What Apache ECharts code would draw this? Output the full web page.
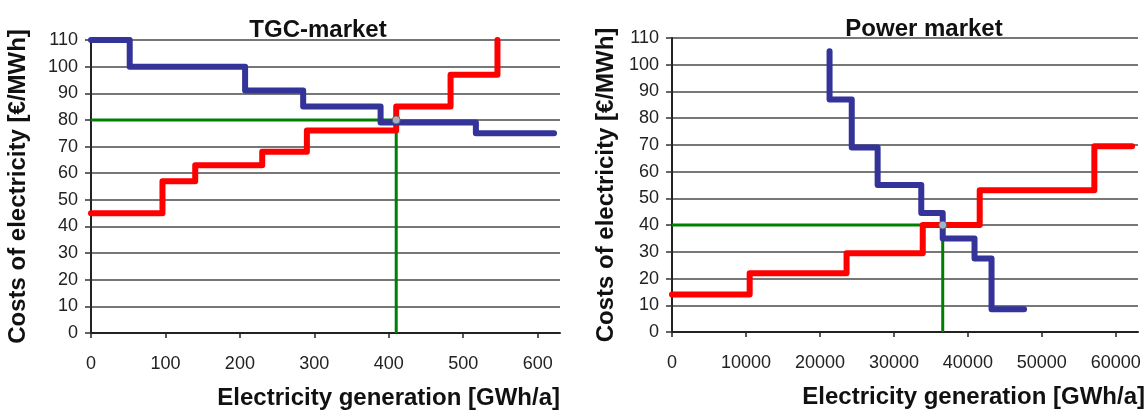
<!DOCTYPE html>
<html>
<head>
<meta charset="utf-8">
<script src="https://cdn.jsdelivr.net/npm/echarts@6/dist/echarts.min.js"></script>
<style>
  html, body { margin: 0; padding: 0; background: #fff; }
  #chart { width: 1148px; height: 414px; }
</style>
</head>
<body>
<div id="chart"></div>
<script>
// TGC market (left) - [GWh/a, €/MWh]
const tgcSupply = [[0, 45], [96, 57], [140, 63], [230, 68], [290, 76], [410, 85], [483, 97], [546, 110]];
const tgcDemand = [[0, 110], [52, 100], [207, 91], [285, 85], [389, 79], [517, 75], [622, 75]];
const tgcPrice = [[0, 80], [410, 80], [410, 0]];
const tgcEquilibrium = [[410, 80]];

// Power market (right)
const powerSupply = [[0, 14], [10500, 22], [23600, 29.5], [33900, 40], [41600, 53], [57100, 69.5], [62200, 69.5]];
const powerDemand = [[21300, 105], [21300, 87], [24300, 69], [27800, 55], [33700, 44.5], [36600, 35], [40900, 27.5], [43200, 8.5], [47600, 8.5]];
const powerPrice = [[0, 40], [36600, 40], [36600, 0]];
const powerEquilibrium = [[36600, 40]];

const titles = ["TGC-market", "Power market"];
const xName = "Electricity generation [GWh/a]";
const yName = "Costs of electricity [€/MWh]";

const FONT = "Liberation Sans, Arial, sans-serif";
const RED = "#ff0000", BLUE = "#333399", GREEN = "#008000";

var myChart = echarts.init(document.getElementById("chart"));

function xAxis(idx, max, interval, gap) {
  return {
    type: "value", gridIndex: idx, min: 0, max: max, interval: interval,
    name: xName, nameLocation: "end", nameGap: gap,
    nameTextStyle: { fontFamily: FONT, fontSize: 24, fontWeight: "bold", color: "#111",
      align: "right", verticalAlign: "top", padding: [53, 0, 0, 0] },
    axisLine: { lineStyle: { color: "#222", width: 2 } },
    axisTick: { show: true, length: 5, lineStyle: { color: "#222", width: 1.5 } },
    axisLabel: { fontFamily: FONT, fontSize: 18, color: "#222", margin: 22, showMaxLabel: false,
      formatter: function (v) { return String(v); } },
    splitLine: { show: false }
  };
}

function yAxis(idx, gap) {
  return {
    type: "value", gridIndex: idx, min: 0, max: 110, interval: 10,
    name: yName, nameLocation: "middle", nameRotate: 90, nameGap: gap,
    nameTextStyle: { fontFamily: FONT, fontSize: 24, fontWeight: "bold", color: "#111" },
    axisLine: { show: true, lineStyle: { color: "#222", width: 2 } },
    axisTick: { show: true, length: 6, lineStyle: { color: "#333", width: 1.5 } },
    axisLabel: { fontFamily: FONT, fontSize: 18, color: "#222", margin: 13 },
    splitLine: { show: true, lineStyle: { color: "#4a4a4a", width: 1.5 } }
  };
}

function stepLine(name, data, color, idx) {
  return {
    name: name, type: "line", step: "end", data: data,
    xAxisIndex: idx, yAxisIndex: idx, showSymbol: false, symbol: "none",
    lineStyle: { color: color, width: 6, cap: "round", join: "round" }
  };
}

function priceLine(data, idx) {
  return {
    type: "line", data: data, xAxisIndex: idx, yAxisIndex: idx,
    showSymbol: false, symbol: "none",
    lineStyle: { color: GREEN, width: 3 }
  };
}

function dot(data, idx) {
  return {
    type: "scatter", data: data, xAxisIndex: idx, yAxisIndex: idx,
    symbolSize: 8, z: 5,
    itemStyle: { color: "#b9d3da", borderColor: "#555", borderWidth: 1 }
  };
}

var option = {
  animation: false,
  title: [
    { text: titles[0], left: 313, top: 13, textAlign: "center",
      textStyle: { fontFamily: FONT, fontSize: 24, fontWeight: "bold", color: "#111" } },
    { text: titles[1], left: 919, top: 12, textAlign: "center",
      textStyle: { fontFamily: FONT, fontSize: 24, fontWeight: "bold", color: "#111" } }
  ],
  grid: [
    { left: 91, top: 40, width: 469, height: 293 },
    { left: 672, top: 38, width: 466, height: 294 }
  ],
  xAxis: [xAxis(0, 630, 100, 0), xAxis(1, 63000, 10000, 7)],
  yAxis: [yAxis(0, 61), yAxis(1, 54)],
  series: [
    priceLine(tgcPrice, 0),
    stepLine("supply", tgcSupply, RED, 0),
    stepLine("demand", tgcDemand, BLUE, 0),
    dot(tgcEquilibrium, 0),
    priceLine(powerPrice, 1),
    stepLine("supply", powerSupply, RED, 1),
    stepLine("demand", powerDemand, BLUE, 1),
    dot(powerEquilibrium, 1)
  ]
};

myChart.setOption(option);
</script>
</body>
</html>
